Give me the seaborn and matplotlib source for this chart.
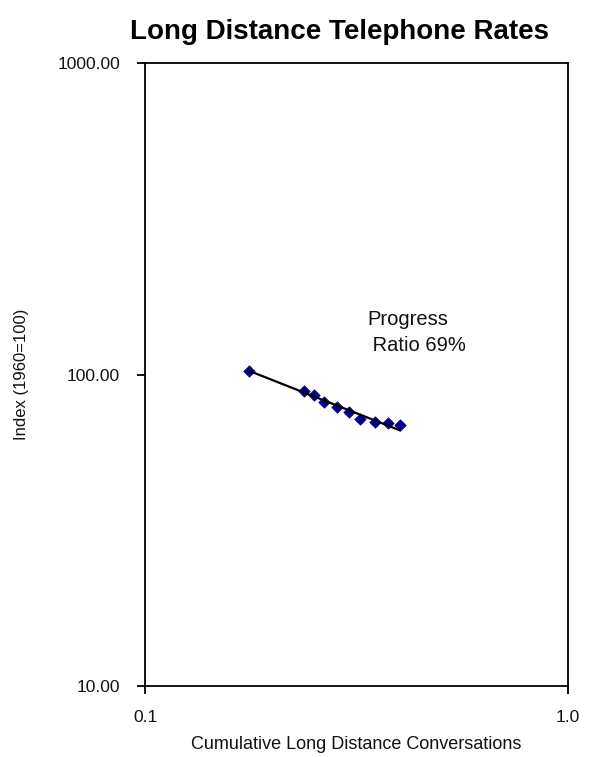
import numpy as np
import pandas as pd
import matplotlib
matplotlib.use("Agg")
import matplotlib.pyplot as plt
import seaborn as sns
from matplotlib.ticker import FixedLocator, FixedFormatter, NullLocator

# Cumulative conversations vs. rate index (1960 = 100)
conversations = [0.176, 0.238, 0.251, 0.265, 0.284, 0.304, 0.322, 0.350, 0.375, 0.401]
rate_index = [102.6, 88.5, 85.9, 81.6, 78.7, 75.8, 71.9, 70.4, 69.9, 68.8]

progress_ratio = 0.69
x_ticks = [0.1, 1.0]
x_tick_labels = ["0.1", "1.0"]
y_ticks = [10, 100, 1000]
y_tick_labels = ["10.00", "100.00", "1000.00"]

df = pd.DataFrame({"x": conversations, "y": rate_index})

# Experience curve with the stated progress ratio: y = a * x^b, b = log2(ratio)
b = np.log2(progress_ratio)
log_a = np.mean(np.log10(df["y"]) - b * np.log10(df["x"]))
fit_x = np.array([df["x"].min(), df["x"].max()])
fit = pd.DataFrame({"x": fit_x, "y": 10 ** log_a * fit_x ** b})

sns.set_theme(style="white")
plt.rcParams["font.family"] = ["Liberation Sans", "DejaVu Sans"]

fig = plt.figure(figsize=(6.1, 7.57), dpi=100)
ax = fig.add_axes([145 / 610, 1 - 686 / 757, 423 / 610, 623 / 757])

sns.scatterplot(data=df, x="x", y="y", ax=ax, marker="D", s=34,
                color="#00008B", edgecolor="#00008B", linewidth=0.5, zorder=2)
sns.lineplot(data=fit, x="x", y="y", ax=ax, color="black", linewidth=1.6,
             zorder=3)

ax.set_xscale("log")
ax.set_yscale("log")
ax.set_xlim(0.1, 1.0)
ax.set_ylim(10, 1000)

ax.xaxis.set_major_locator(FixedLocator(x_ticks))
ax.xaxis.set_major_formatter(FixedFormatter(x_tick_labels))
ax.yaxis.set_major_locator(FixedLocator(y_ticks))
ax.yaxis.set_major_formatter(FixedFormatter(y_tick_labels))
ax.xaxis.set_minor_locator(NullLocator())
ax.yaxis.set_minor_locator(NullLocator())

for side in ["left", "right", "top", "bottom"]:
    ax.spines[side].set_visible(True)
    ax.spines[side].set_color("black")
    ax.spines[side].set_linewidth(1.3)

ax.tick_params(axis="both", which="major", direction="out", length=6,
               width=1.3, color="black", labelsize=12.5, labelcolor="#111111",
               bottom=True, left=True)
ax.tick_params(axis="x", pad=11)
ax.tick_params(axis="y", pad=12)

ax.set_xlabel("Cumulative Long Distance Conversations", fontsize=13,
              color="#111111", labelpad=8)
ax.set_ylabel("Index (1960=100)", fontsize=12, color="#111111")
ax.yaxis.set_label_coords(-0.275, 0.5)

ax.text(0.525, 0.603, "Progress\n Ratio 69%", transform=ax.transAxes,
        ha="left", va="top", fontsize=14.5, linespacing=1.45, color="#111111")

fig.text(340 / 610, 1 - 39 / 757, "Long Distance Telephone Rates",
         ha="center", va="baseline", fontsize=20, fontweight="bold",
         color="black")

fig.savefig("out.png", dpi=100, facecolor="white")
